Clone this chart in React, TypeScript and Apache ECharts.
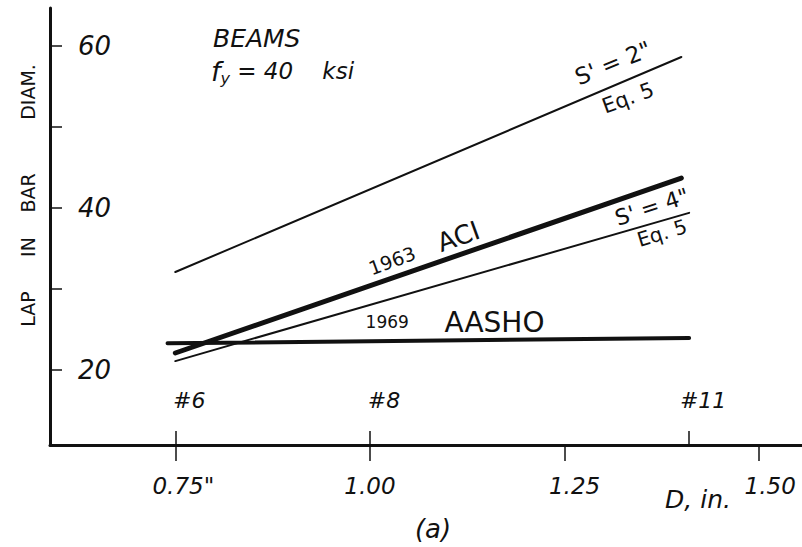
import React, { useEffect, useRef } from "react";
import * as echarts from "echarts";

const W = 802;
const H = 547;
const FONT = "'DejaVu Sans', 'Liberation Sans', sans-serif";
const INK = "#111111";

// Bar diameter D (in.) on x, lap length in bar diameters on y
const xTickValues = [0.75, 1.0, 1.25, 1.5];
const xTickLabels = ['0.75"', "1.00", "1.25", "1.50"];
const barSizeDiameters = [0.75, 1.0, 1.41];
const barSizeLabels = ["#6", "#8", "#11"];
const yTickValues = [20, 30, 40, 50, 60];
const yLabelValues = [20, 40, 60];

// [D, lap / bar diameter]
const eq5S2 = [
  [0.75, 32.1],
  [1.4, 58.65],
];
const aci1963 = [
  [0.75, 22.1],
  [1.4, 43.7],
];
const eq5S4 = [
  [0.75, 21.1],
  [1.41, 39.4],
];
const aasho1969 = [
  [0.74, 23.3],
  [1.41, 23.95],
];

const X_MIN = 0.589;
const X_MAX = 1.555;
const Y_MIN = 10.74;
const Y_MAX = 64.7;

const indexOf = (values: number[], v: number) =>
  values.findIndex((t) => Math.abs(t - v) < 1e-6);

// hand-lettered tick labels sit a little off their ticks
const xLabelStyleKeys = ["a", "b", "c", "d"];
const xLabelFont = { fontFamily: FONT, fontStyle: "italic", fontSize: 23, color: INK };
const xLabelRich = {
  a: { ...xLabelFont, padding: [0, 0, 0, 16] },
  b: { ...xLabelFont },
  c: { ...xLabelFont, padding: [0, 0, 0, 20] },
  d: { ...xLabelFont, padding: [0, 0, 6, 22] },
};

const lineSeries = (name: string, data: number[][], width: number) => ({
  name,
  type: "line",
  data,
  symbol: "none",
  silent: true,
  z: 3,
  lineStyle: { color: INK, width, cap: "round" },
});

const deg = (d: number) => (d * Math.PI) / 180;

const label = (
  text: string,
  x: number,
  y: number,
  fontSize: number,
  extra: Record<string, any> = {}
) => {
  const { rotation = 0, align = "center", fontStyle = "normal", rich } = extra;
  return {
    type: "text",
    x,
    y,
    rotation,
    silent: true,
    style: {
      text,
      fontSize,
      fontFamily: FONT,
      fontStyle,
      fill: INK,
      align,
      verticalAlign: "middle",
      rich,
    },
  };
};

export default function App() {
  const ref = useRef<HTMLDivElement>(null);

  useEffect(() => {
    if (!ref.current) return;
    const chart = echarts.init(ref.current, undefined, { renderer: "svg" });

    const option = {
      animation: false,
      backgroundColor: "#ffffff",
      grid: { left: 50, right: 0, top: 8, bottom: 102, containLabel: false },
      xAxis: [
        {
          type: "value",
          min: X_MIN,
          max: X_MAX,
          position: "bottom",
          axisLine: { show: true, onZero: false, lineStyle: { color: INK, width: 3 } },
          axisTick: {
            show: true,
            inside: false,
            length: 16,
            customValues: xTickValues,
            lineStyle: { color: INK, width: 1.5 },
          },
          axisLabel: {
            show: true,
            customValues: xTickValues,
            margin: 29,
            ...xLabelFont,
            rich: xLabelRich,
            formatter: (v: number) => {
              const i = indexOf(xTickValues, v);
              return i >= 0 ? `{${xLabelStyleKeys[i]}|${xTickLabels[i]}}` : "";
            },
          },
          splitLine: { show: false },
        },
        {
          type: "value",
          min: X_MIN,
          max: X_MAX,
          position: "bottom",
          axisLine: { show: false, onZero: false },
          axisTick: {
            show: true,
            inside: true,
            length: 14,
            customValues: barSizeDiameters,
            lineStyle: { color: INK, width: 1.5 },
          },
          axisLabel: {
            show: true,
            inside: true,
            customValues: barSizeDiameters,
            margin: 34,
            padding: [0, 0, 0, 28],
            color: INK,
            fontFamily: FONT,
            fontStyle: "italic",
            fontSize: 22,
            formatter: (v: number) => {
              const i = indexOf(barSizeDiameters, v);
              return i >= 0 ? barSizeLabels[i] : "";
            },
          },
          splitLine: { show: false },
        },
      ],
      yAxis: {
        type: "value",
        min: Y_MIN,
        max: Y_MAX,
        axisLine: { show: true, onZero: false, lineStyle: { color: INK, width: 3 } },
        axisTick: {
          show: true,
          inside: true,
          length: 12,
          customValues: yTickValues,
          lineStyle: { color: INK, width: 1.5 },
        },
        axisLabel: {
          show: true,
          inside: true,
          customValues: yLabelValues,
          margin: 28,
          color: INK,
          fontFamily: FONT,
          fontStyle: "italic",
          fontSize: 26,
        },
        splitLine: { show: false },
      },
      series: [
        lineSeries("S' = 2\" Eq. 5", eq5S2, 2),
        lineSeries("1963 ACI", aci1963, 5),
        lineSeries("S' = 4\" Eq. 5", eq5S4, 2),
        lineSeries("1969 AASHO", aasho1969, 4),
      ],
      graphic: [
        // vertical axis title
        label("LAP", 28, 309, 19, { rotation: deg(90) }),
        label("IN", 28, 247, 19, { rotation: deg(90) }),
        label("BAR", 28, 193, 19, { rotation: deg(90) }),
        label("DIAM.", 28, 92, 19, { rotation: deg(90) }),
        // case description
        label("BEAMS", 213, 38, 25, { align: "left", fontStyle: "italic" }),
        label("{f|f}{s|y}{t| = 40    ksi}", 211, 71, 23, {
          align: "left",
          fontStyle: "italic",
          rich: {
            f: { fontSize: 27, fontFamily: FONT, fontStyle: "italic", fill: INK },
            s: { fontSize: 16, fontFamily: FONT, fontStyle: "italic", fill: INK, padding: [15, 0, 0, 0] },
            t: { fontSize: 23, fontFamily: FONT, fontStyle: "italic", fill: INK },
          },
        }),
        // curve annotations
        label("S' = 2\"", 613, 63, 23, { rotation: deg(22) }),
        label("Eq. 5", 628, 98, 21, { rotation: deg(20) }),
        label("{a|1963}{b|   ACI}", 424, 249, 22, {
          rotation: deg(20),
          rich: {
            a: { fontSize: 19, fontFamily: FONT, fill: INK },
            b: { fontSize: 26, fontFamily: FONT, fill: INK },
          },
        }),
        label("S' = 4\"", 652, 207, 22, { rotation: deg(18) }),
        label("Eq. 5", 662, 233, 20, { rotation: deg(17) }),
        label("{a|1969}{b|    AASHO}", 455, 322, 22, {
          rich: {
            a: { fontSize: 17, fontFamily: FONT, fill: INK },
            b: { fontSize: 28, fontFamily: FONT, fill: INK },
          },
        }),
        // axis caption
        label("D, in.", 698, 499, 25, { fontStyle: "italic" }),
        label("(a)", 433, 529, 26, { fontStyle: "italic" }),
      ],
    };

    chart.setOption(option as any);
    return () => chart.dispose();
  }, []);

  return (
    <div
      ref={ref}
      style={{ position: "fixed", left: 0, top: 0, width: W, height: H, background: "#fff" }}
    />
  );
}
